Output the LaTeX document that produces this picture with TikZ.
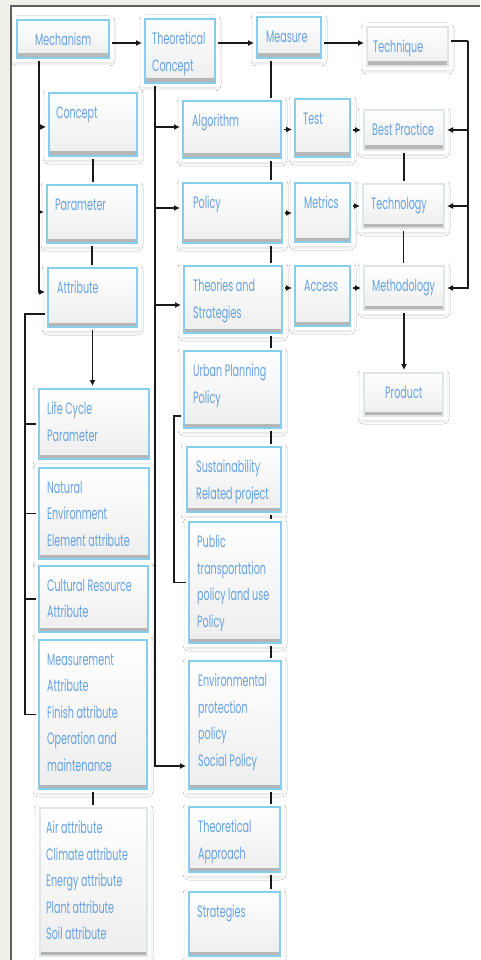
\documentclass[tikz,border=0pt]{standalone}
\usepackage{fontspec}
\setmainfont{Poppins}[FakeStretch=0.58]
\usetikzlibrary{arrows.meta,shadows.blur,calc}
\definecolor{txtblue}{RGB}{100,162,226}
\definecolor{rimblue}{RGB}{135,206,238}
\definecolor{rimgrey}{RGB}{226,229,232}
\definecolor{framegrey}{RGB}{240,240,235}
\definecolor{frameline}{RGB}{95,95,95}
\definecolor{wirec}{RGB}{25,25,25}
\tikzset{
  box/.style={rectangle, inner sep=0pt, outer sep=3pt,
    blur shadow={shadow xshift=0pt, shadow yshift=-2pt, shadow blur radius=6pt,
                 shadow opacity=35, shadow blur steps=6},
    preaction={draw=white, line width=8pt},
    top color=white, bottom color=black!7,
    path picture={\shade[top color=black!5, bottom color=black!30]
      ([yshift=4pt]path picture bounding box.south west)
      rectangle (path picture bounding box.south east);},
    draw=rimblue, line width=1.4pt},
  plainbox/.style={box, draw=rimgrey},
  lbl/.style={font=\fontsize{16.5}{26.5}\selectfont, text=txtblue, inner sep=0pt,
    align=left, anchor=north west},
  wire/.style={draw=wirec, line width=1.1pt},
  arr/.style={wire, -{Latex[length=6pt,width=6pt]}},
}
% \bx[style]{name}{x1}{y1}{x2}{y2}{text indent}{text}
\newcommand\bx[8][box]{%
  \node[#1, minimum width={(#5-#3)*1pt}, minimum height={(#6-#4)*1pt}]
    (#2) at ({(#3+#5)/2},{(#4+#6)/2}) {};
  \node[lbl] (#2-t) at ({#3+#7},{#4+13}) {\rule{0pt}{12pt}#8};
}
\begin{document}
\begin{tikzpicture}[x=1pt,y=-1pt]
\useasboundingbox (0,0) rectangle (480,960);
% window frame
\fill[white] (0,0) rectangle (480,960);
\fill[framegrey] (0,0) rectangle (11,960);
\fill[framegrey] (0,0) rectangle (480,6);
\draw[frameline, line width=1.2pt] (11,960) -- (11,6) -- (480,6);

% top row
\bx{mech}{17}{20}{109}{58}{18}{Mechanism}
\bx{tc}{145}{19}{215}{83}{7}{Theoretical\\Concept}
\bx{measure}{257}{17}{321}{58}{9}{Measure}
\bx[plainbox]{tech}{367}{27}{448}{66}{6}{Technique}

% left column
\bx{concept}{49}{93}{137}{156}{7}{Concept}
\bx{param}{47}{185}{137}{243}{8}{Parameter}
\bx{attr}{48}{268}{137}{327}{9}{Attribute}
\bx{life}{39}{389}{149}{459}{8}{Life Cycle\\Parameter}
\bx{natural}{39}{468}{149}{559}{8}{Natural\\Environment\\Element attribute}
\bx{cultural}{39}{566}{148}{632}{8}{Cultural Resource\\Attribute}
\bx{meas}{39}{640}{147}{789}{8}{Measurement\\Attribute\\Finish attribute\\Operation and\\maintenance}
\bx[plainbox]{air}{40}{808}{147}{956}{6}{Air attribute\\Climate attribute\\Energy attribute\\Plant attribute\\Soil attribute}

% middle column
\bx{algo}{183}{101}{281}{158}{9}{Algorithm}
\bx{policy}{183}{183}{282}{243}{10}{Policy}
\bx{theo}{184}{266}{282}{333}{9}{Theories and\\Strategies}
\bx{urban}{184}{351}{281}{428}{9}{Urban Planning\\Policy}
\bx{sust}{187}{447}{281}{512}{9}{Sustainability\\Related project}
\bx{public}{189}{522}{281}{643}{8}{Public\\transportation\\policy land use\\Policy}
\bx{env}{189}{661}{281}{789}{9}{Environmental\\protection\\policy\\Social Policy}
\bx{tapp}{189}{807}{280}{872}{9}{Theoretical\\Approach}
\bx{strat}{189}{892}{280}{956}{8}{Strategies}

% measures
\bx{test}{295}{99}{350}{157}{8}{Test}
\bx{metrics}{295}{183}{350}{242}{9}{Metrics}
\bx{access}{295}{266}{350}{326}{9}{Access}

% right column
\bx[plainbox]{best}{364}{110}{444}{150}{8}{Best Practice}
\bx[plainbox]{techn}{363}{184}{444}{228}{8}{Technology}
\bx[plainbox]{method}{364}{266}{444}{310}{8}{Methodology}
\bx[plainbox]{product}{364}{373}{443}{416}{21}{Product}

% top row links
\draw[arr] ([yshift=-4pt]mech.east) coordinate (m1) -- (tc.west |- m1);
\draw[arr] ([yshift=8pt]tc.east) coordinate (t1) -- (measure.west |- t1);
\draw[arr] ([yshift=-5.5pt]measure.east) coordinate (s1) -- (tech.west |- s1);
\draw[wire] ([yshift=5.5pt]tech.east) -- ++(17,0) coordinate (rtop);
\draw[arr] (rtop) |- (best.east);
\draw[arr] (rtop) |- (techn.east);
\draw[arr] (rtop) |- (method.east);

% mechanism trunk
\coordinate (mtrunk) at ([xshift=25pt]mech.south west);
\draw[arr] (mtrunk) |- ([yshift=-2.5pt]concept.west);
\draw[arr] (mtrunk) |- ([yshift=2pt]param.west);
\draw[arr] (mtrunk) |- ([yshift=5.5pt]attr.west);
\draw[wire] (concept.south) -- (concept.south |- param.north);
\draw[wire] (param.south) -- (param.south |- attr.north);
\draw[arr] (attr.south) -- (attr.south |- life.north);
\draw[wire] ([yshift=-16.5pt]attr.west) -| ([xshift=-11pt]meas.west) -- (meas.west);
\foreach \b in {life,natural,cultural}
  \draw[wire] ([xshift=-11pt]\b.west) -- (\b.west);
\draw[wire] (meas.south) -- (meas.south |- air.north);

% theoretical concept trunk
\coordinate (ttrunk) at ([xshift=13pt]tc.south west);
\draw[arr] (ttrunk) |- ([yshift=2.5pt]algo.west);
\draw[arr] (ttrunk) |- ([yshift=5pt]policy.west);
\draw[arr] (ttrunk) |- ([yshift=-5.5pt]theo.west);
\draw[arr] (ttrunk) |- ([yshift=-41pt]env.west);

% measure chain
\coordinate (mchain) at ([xshift=17pt]measure.south west);
\draw[wire] (mchain) -- (mchain |- algo.north);
\foreach \a/\b in {algo/policy,policy/theo,theo/urban,urban/sust,sust/public,public/env,env/tapp,tapp/strat}
  \draw[wire] (mchain |- \a.south) -- (mchain |- \b.north);
\draw[wire] ([yshift=-26.5pt]urban.west) -- ++(-7,0) |- (public.west);

% across to measures and right column
\draw[arr] (algo.east) -- (test.west |- algo.east);
\draw[arr] (policy.east) -- (metrics.west |- policy.east);
\draw[arr] ([yshift=11.5pt]theo.east) coordinate (h1) -- (access.west |- h1);
\draw[arr] (test.east |- best.west) -- (best.west);
\draw[arr] (metrics.east |- techn.west) -- (techn.west);
\draw[arr] (access.east |- method.west) -- (method.west);
\draw[wire] (best.south) -- (best.south |- techn.north);
\draw[wire] (techn.south) -- (techn.south |- method.north);
\draw[arr] (method.south) -- (method.south |- product.north);
\end{tikzpicture}
\end{document}
